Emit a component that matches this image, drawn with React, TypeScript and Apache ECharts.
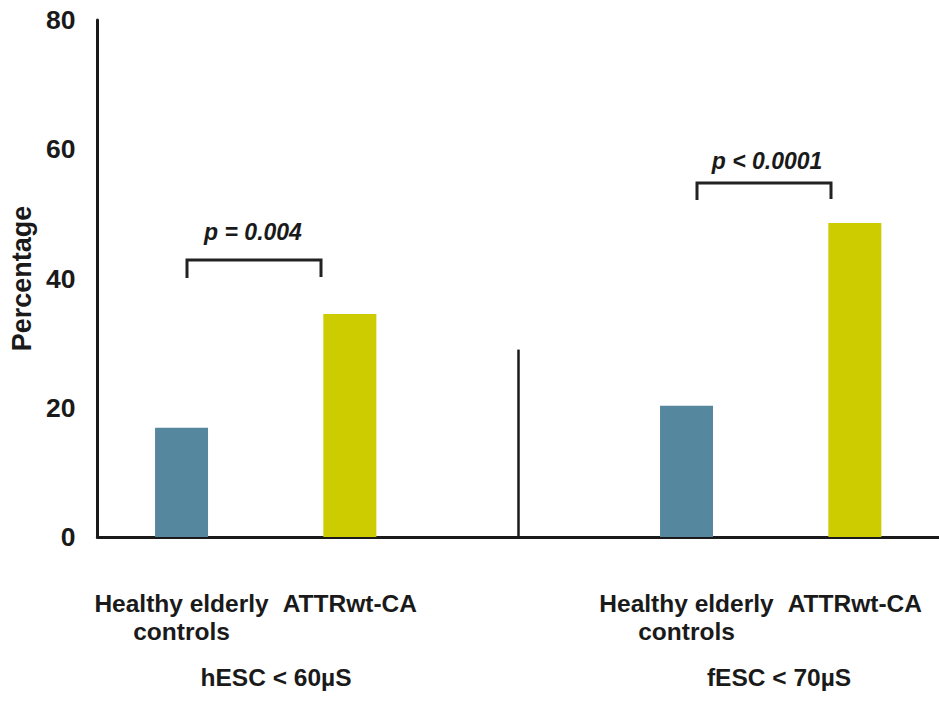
import React, { useEffect, useRef } from "react";
import * as echarts from "echarts";

const categories = ["Healthy elderly\ncontrols", "ATTRwt-CA", "", "Healthy elderly\ncontrols", "ATTRwt-CA"];
const values: (number | null)[] = [16.9, 34.5, null, 20.3, 48.6];
const barColors = ["#55889e", "#cccc00", "#ffffff", "#55889e", "#cccc00"];
const yTicks = { min: 0, max: 80, interval: 20 };
const pLabels = ["p = 0.004", "p < 0.0001"];
const groupLabels = ["hESC < 60µS", "fESC < 70µS"];
const dividerTop = 29;

const FONT = "'Liberation Sans', Arial, Helvetica, sans-serif";
const INK = "#1a1a1a";

export default function App() {
  const ref = useRef<HTMLDivElement>(null);
  useEffect(() => {
    if (!ref.current) return;
    const chart = echarts.init(ref.current, null, { renderer: "svg" });
    chart.setOption({
      animation: false,
      backgroundColor: "#ffffff",
      textStyle: { fontFamily: FONT },
      grid: { left: 93, right: 0, top: 20, bottom: 170, containLabel: false },
      xAxis: {
        type: "category",
        data: categories,
        axisTick: { show: false },
        axisLine: { show: true, lineStyle: { color: INK, width: 3 } },
        axisLabel: {
          interval: 0,
          margin: 52,
          color: INK,
          fontFamily: FONT,
          fontWeight: "bold",
          fontSize: 24.5,
          lineHeight: 28,
        },
      },
      yAxis: {
        type: "value",
        min: yTicks.min,
        max: yTicks.max,
        interval: yTicks.interval,
        name: "Percentage",
        nameLocation: "middle",
        nameGap: 62,
        nameTextStyle: { color: INK, fontFamily: FONT, fontWeight: "bold", fontSize: 27 },
        axisLine: { show: true, lineStyle: { color: INK, width: 3 } },
        axisTick: { show: false },
        splitLine: { show: false },
        axisLabel: { margin: 22, color: INK, fontFamily: FONT, fontWeight: "bold", fontSize: 26.5 },
      },
      series: [
        {
          type: "bar",
          barWidth: 53,
          data: values.map((v, i) => ({ value: v, itemStyle: { color: barColors[i] } })),
          markLine: {
            silent: true,
            symbol: "none",
            label: { show: false },
            lineStyle: { color: INK, width: 2.5, type: "solid" },
            data: [[{ coord: [2, 0] }, { coord: [2, dividerTop] }]],
          },
        },
      ],
      graphic: [
        {
          type: "polyline",
          shape: { points: [[187, 278], [187, 260], [321, 260], [321, 277]] },
          style: { stroke: "#222", lineWidth: 3, fill: null },
        },
        {
          type: "polyline",
          shape: { points: [[697, 200], [697, 183], [831, 183], [831, 199]] },
          style: { stroke: "#222", lineWidth: 3, fill: null },
        },
        {
          type: "text",
          x: 253,
          y: 232,
          style: {
            text: pLabels[0],
            fill: INK,
            font: `italic bold 23px ${FONT}`,
            textAlign: "center",
            textVerticalAlign: "middle",
          },
        },
        {
          type: "text",
          x: 767,
          y: 161,
          style: {
            text: pLabels[1],
            fill: INK,
            font: `italic bold 23px ${FONT}`,
            textAlign: "center",
            textVerticalAlign: "middle",
          },
        },
        {
          type: "text",
          x: 276,
          y: 677,
          style: {
            text: groupLabels[0],
            fill: INK,
            font: `bold 24.5px ${FONT}`,
            textAlign: "center",
            textVerticalAlign: "middle",
          },
        },
        {
          type: "text",
          x: 779,
          y: 677,
          style: {
            text: groupLabels[1],
            fill: INK,
            font: `bold 24.5px ${FONT}`,
            textAlign: "center",
            textVerticalAlign: "middle",
          },
        },
      ],
    });
    return () => chart.dispose();
  }, []);
  return (
    <div
      ref={ref}
      style={{ position: "absolute", left: 0, top: 0, width: 939, height: 707, background: "#fff" }}
    />
  );
}
